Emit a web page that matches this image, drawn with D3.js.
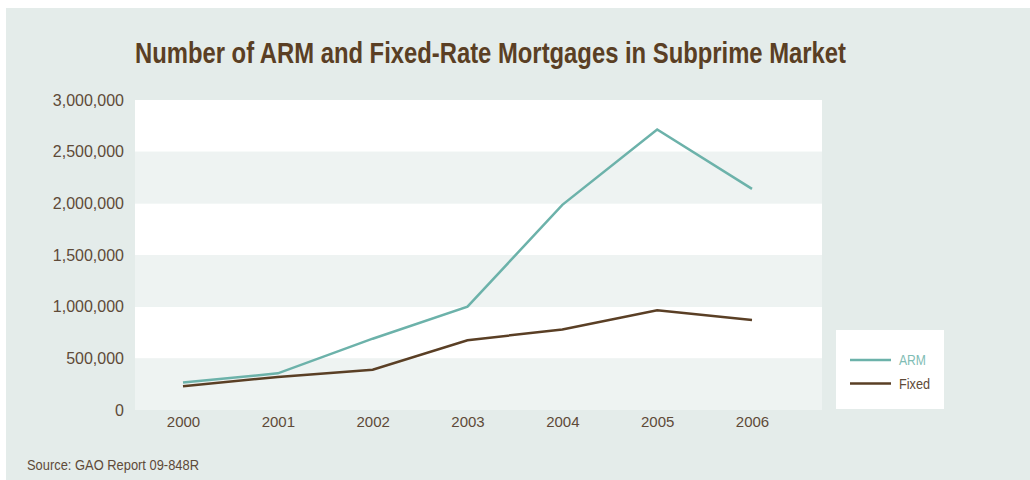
<!DOCTYPE html>
<html>
<head>
<meta charset="utf-8">
<script src="https://cdn.jsdelivr.net/npm/d3@7"></script>
<style>
  html, body { margin: 0; padding: 0; background: #ffffff; }
  svg { display: block; }
  text { font-family: "Liberation Sans Narrow", "Arial Narrow", "Liberation Sans", sans-serif; }
</style>
</head>
<body>
<svg id="chart" width="1030" height="480"></svg>
<script>
// Subprime mortgage originations by type, 2000-2006
const years = ["2000", "2001", "2002", "2003", "2004", "2005", "2006"];
const armValues = [265000, 355000, 690000, 1000000, 1985000, 2715000, 2140000];
const fixedValues = [230000, 320000, 390000, 675000, 780000, 965000, 870000];
const yTicks = [0, 500000, 1000000, 1500000, 2000000, 2500000, 3000000];
const seriesNames = ["ARM", "Fixed"];
const seriesColors = ["#6cb2aa", "#5a3f25"];

const svg = d3.select("#chart");
const W = 1030, H = 480;

// panel background
svg.append("rect").attr("x", 6).attr("y", 8).attr("width", W - 6).attr("height", H - 8)
  .attr("fill", "#e4ecea");

const plot = { left: 135, right: 822, top: 100, bottom: 410 };

const x = d3.scalePoint().domain(years).range([183, 752]);
const y = d3.scaleLinear().domain([0, 3000000]).range([plot.bottom, plot.top]);

// alternating horizontal bands
const bands = d3.pairs(yTicks);
svg.append("g").selectAll("rect").data(bands).join("rect")
  .attr("x", plot.left)
  .attr("width", plot.right - plot.left)
  .attr("y", d => y(d[1]))
  .attr("height", d => y(d[0]) - y(d[1]))
  .attr("fill", (d, i) => i % 2 === 0 ? "#eef3f2" : "#ffffff");

// title
svg.append("text")
  .attr("x", 135).attr("y", 63)
  .attr("font-size", 30)
  .attr("font-weight", "bold")
  .attr("fill", "#5a3f24")
  .attr("textLength", 711)
  .attr("lengthAdjust", "spacingAndGlyphs")
  .text("Number of ARM and Fixed-Rate Mortgages in Subprime Market");

// y axis
const yAxis = d3.axisLeft(y).tickValues(yTicks).tickSize(0).tickPadding(0)
  .tickFormat(d3.format(","));
const gy = svg.append("g").attr("transform", `translate(124,0)`).call(yAxis);
gy.select(".domain").remove();
gy.selectAll("text").attr("font-size", 16).attr("fill", "#5e4a38")
  .attr("font-family", "'Liberation Sans Narrow', sans-serif");

// x axis
const xAxis = d3.axisBottom(x).tickSize(0).tickPadding(0);
const gx = svg.append("g").attr("transform", `translate(0,${plot.bottom + 6})`).call(xAxis);
gx.select(".domain").remove();
gx.selectAll("text").attr("font-size", 15).attr("fill", "#5e4a38")
  .attr("font-family", "'Liberation Sans Narrow', sans-serif");

// lines
const line = d3.line().x((d, i) => x(years[i])).y(d => y(d));
[fixedValues, armValues].forEach((vals, k) => {
  const idx = k === 0 ? 1 : 0;
  svg.append("path").datum(vals)
    .attr("d", line)
    .attr("fill", "none")
    .attr("stroke", seriesColors[idx])
    .attr("stroke-width", 2.5)
    .attr("stroke-linejoin", "miter");
});

// legend
const lg = svg.append("g");
lg.append("rect").attr("x", 836).attr("y", 330).attr("width", 108).attr("height", 79).attr("fill", "#ffffff");
const legendWidths = [27, 31];
seriesNames.forEach((name, i) => {
  const cy = 360 + i * 23.5;
  lg.append("line").attr("x1", 850).attr("x2", 891).attr("y1", cy).attr("y2", cy)
    .attr("stroke", seriesColors[i]).attr("stroke-width", 2.5);
  lg.append("text").attr("x", 899).attr("y", cy + 5)
    .attr("font-size", 15)
    .attr("textLength", legendWidths[i])
    .attr("lengthAdjust", "spacingAndGlyphs")
    .attr("fill", i === 0 ? "#7fbdb5" : "#5e4a38")
    .text(name);
});

// source note
svg.append("text").attr("x", 27).attr("y", 470)
  .attr("font-size", 15).attr("fill", "#5e4a38")
  .attr("textLength", 172)
  .attr("lengthAdjust", "spacingAndGlyphs")
  .text("Source: GAO Report 09-848R");
</script>
</body>
</html>
